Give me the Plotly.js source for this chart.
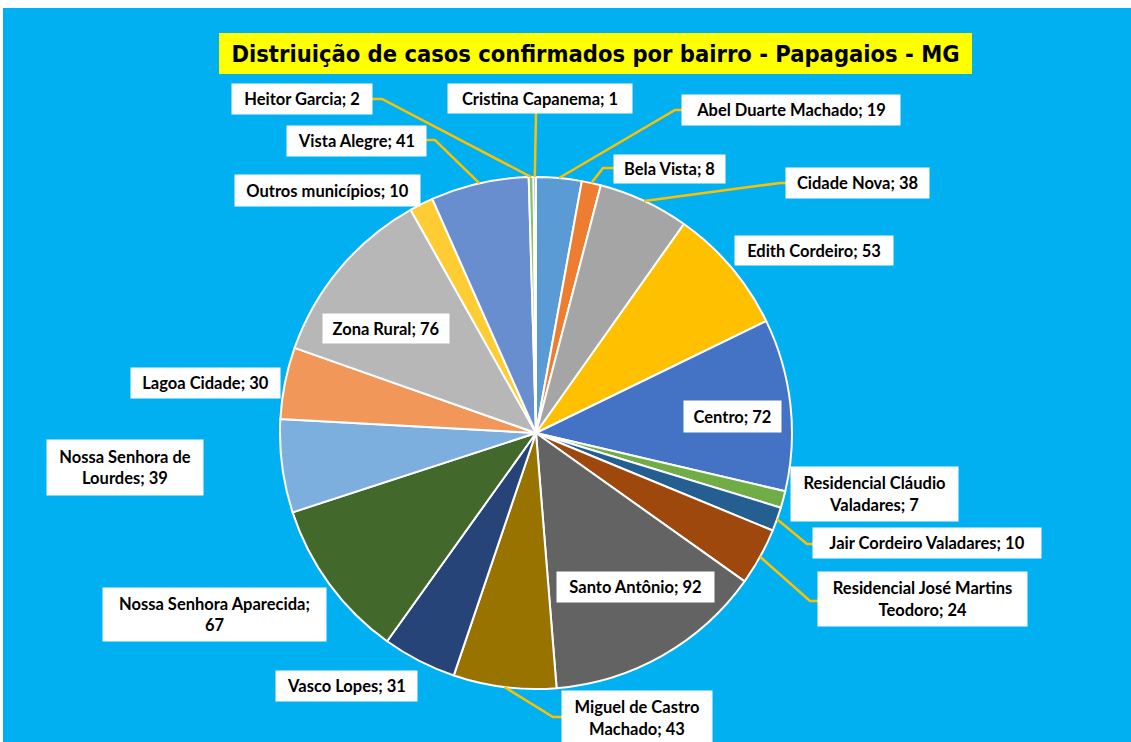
<!DOCTYPE html>
<html>
<head>
<meta charset="utf-8">
<script src="https://cdn.plot.ly/plotly-3.0.1.min.js"></script>
<style>
  html, body { margin: 0; padding: 0; background: #ffffff; width: 1131px; height: 742px; overflow: hidden; }
  #chart { position: absolute; left: 3px; top: 8px; width: 1128px; height: 734px; }
</style>
</head>
<body>
<div id="chart"></div>
<script>
// ---- data ----
const labels = [
  'Abel Duarte Machado', 'Bela Vista', 'Cidade Nova', 'Edith Cordeiro', 'Centro',
  'Residencial Cláudio Valadares', 'Jair Cordeiro Valadares', 'Residencial José Martins Teodoro',
  'Santo Antônio', 'Miguel de Castro Machado', 'Vasco Lopes', 'Nossa Senhora Aparecida',
  'Nossa Senhora de Lourdes', 'Lagoa Cidade', 'Zona Rural', 'Outros municípios',
  'Vista Alegre', 'Heitor Garcia', 'Cristina Capanema'
];
const values = [19, 8, 38, 53, 72, 7, 10, 24, 92, 43, 31, 67, 39, 30, 76, 10, 41, 2, 1];
const colors = [
  '#5B9BD5', '#ED7D31', '#A5A5A5', '#FFC000', '#4472C4', '#70AD47', '#255E91', '#9E480E',
  '#636363', '#997300', '#264478', '#43682B', '#7CAFDD', '#F1975A', '#B7B7B7', '#FFCD33',
  '#698ED0', '#8CC168', '#2E75B6'
];
const titleText = 'Distriuição de casos confirmados por bairro - Papagaios - MG';

// ---- layout (page pixel geometry) ----
const OFFX = 3, OFFY = 8, W = 1128, H = 734;
const CX = 536, CY = 433, R = 256;
const px = X => (X - OFFX) / W;
const py = Y => 1 - (Y - OFFY) / H;

// label boxes: [x0, x1, y0, y1], wrap (words on first line), leader elbow points
const boxes = [
  { b: [682, 900, 95, 125], leader: [[675, 110], [682, 110]] },
  { b: [614, 725, 155, 183], leader: [[603, 168], [614, 168]] },
  { b: [786, 929, 168, 198], leader: [[780, 183], [786, 183]] },
  { b: [735, 893, 236, 265] },
  { b: [684, 781, 401, 432] },
  { b: [791, 958, 467, 521], wrap: 2 },
  { b: [813, 1041, 528, 558], leader: [[807, 544], [813, 544]] },
  { b: [818, 1027, 572, 626], wrap: 3, leader: [[810, 601], [818, 601]] },
  { b: [557, 714, 572, 602] },
  { b: [562, 712, 691, 745], wrap: 3, leader: [[553, 717], [562, 717]] },
  { b: [276, 417, 671, 701] },
  { b: [103, 326, 588, 641], wrap: 3 },
  { b: [47, 203, 440, 495], wrap: 3 },
  { b: [131, 280, 368, 398] },
  { b: [323, 449, 314, 343] },
  { b: [235, 420, 175, 206] },
  { b: [287, 426, 126, 156], leader: [[435, 140], [426, 140]] },
  { b: [232, 372, 84, 114], leader: [[382, 99], [372, 99]] },
  { b: [448, 632, 84, 113], leader: [[536, 113]] }
];

const total = values.reduce((a, b) => a + b, 0);
let cum = 0;
const annotations = [];
const shapes = [];

// yellow title box
shapes.push({
  type: 'rect', xref: 'paper', yref: 'paper', layer: 'below',
  x0: px(219), x1: px(972), y0: py(74), y1: py(33),
  fillcolor: '#FFFF00', line: { width: 0 }
});

values.forEach((v, i) => {
  const mid = (cum + v / 2) / total * 2 * Math.PI;
  cum += v;
  const ex = CX + R * Math.sin(mid);
  const ey = CY - R * Math.cos(mid);
  const bx = boxes[i];
  const [x0, x1, y0, y1] = bx.b;
  let words = (labels[i] + '; ' + v).split(' ');
  let text = bx.wrap ? words.slice(0, bx.wrap).join(' ') + '<br>' + words.slice(bx.wrap).join(' ') : words.join(' ');
  annotations.push({
    xref: 'paper', yref: 'paper',
    x: px((x0 + x1) / 2), y: py((y0 + y1) / 2),
    xanchor: 'center', yanchor: 'middle',
    width: x1 - x0, height: y1 - y0, borderpad: 0,
    align: 'center', valign: 'middle',
    showarrow: false, bgcolor: '#FFFFFF',
    text: '<b>' + text + '</b>',
    font: { family: 'Lato, "Open Sans", sans-serif', size: 16.5, color: '#000000' }
  });
  if (bx.leader) {
    let path = 'M ' + px(ex) + ',' + py(ey);
    bx.leader.forEach(p => { path += ' L ' + px(p[0]) + ',' + py(p[1]); });
    shapes.push({
      type: 'path', xref: 'paper', yref: 'paper', layer: 'above',
      path: path, line: { color: '#FFC000', width: 2.5 }
    });
  }
});

const trace = {
  type: 'pie',
  labels: labels,
  values: values,
  sort: false,
  direction: 'clockwise',
  rotation: 0,
  textinfo: 'none',
  hoverinfo: 'label+value',
  marker: { colors: colors, line: { color: '#FFFFFF', width: 2 } },
  domain: { x: [px(CX - R), px(CX + R)], y: [py(CY + R), py(CY - R)] },
  showlegend: false
};

const layout = {
  width: W, height: H,
  margin: { l: 0, r: 0, t: 0, b: 0 },
  paper_bgcolor: '#00B0F0',
  showlegend: false,
  title: {
    text: '<b>' + titleText + '</b>',
    xref: 'paper', yref: 'paper',
    x: px(595.5), y: py(54), xanchor: 'center', yanchor: 'middle',
    font: { family: '"Liberation Sans Narrow", "DejaVu Sans Condensed", Arial, sans-serif', size: 23.5, color: '#000000' }
  },
  annotations: annotations,
  shapes: shapes
};

Plotly.newPlot('chart', [trace], layout, { displayModeBar: false, staticPlot: true });
</script>
</body>
</html>
